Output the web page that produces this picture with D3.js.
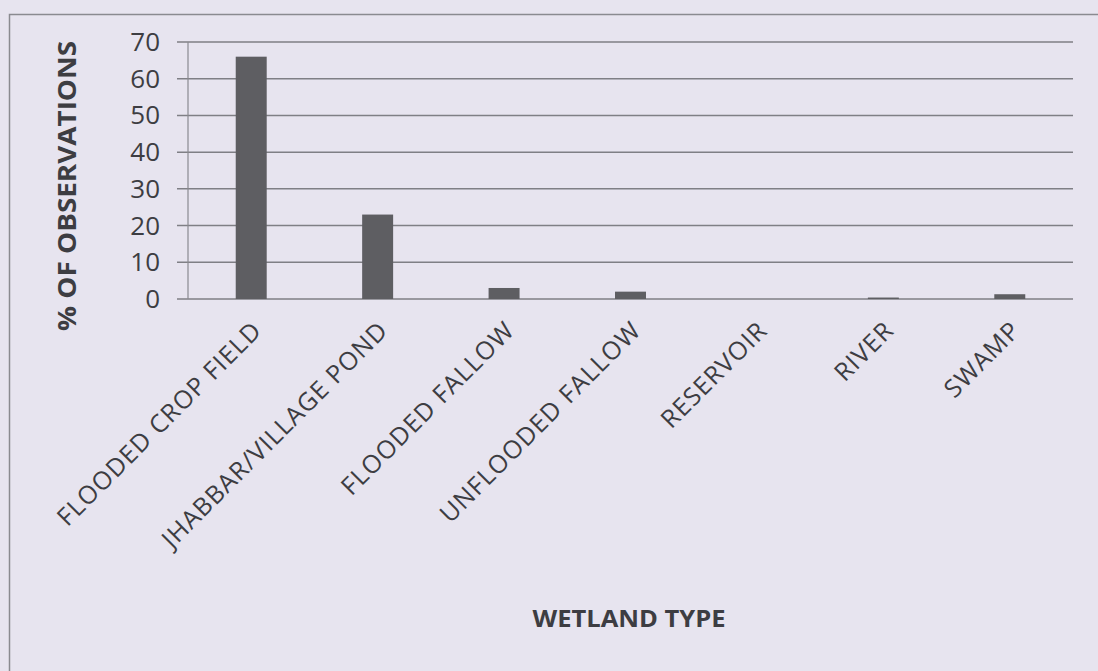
<!DOCTYPE html>
<html lang="en">
<head>
    <meta charset="UTF-8"/>
    <title>Wetland type observations</title>
    <script src="https://d3js.org/d3.v7.min.js"></script>
    <style>
        body { margin: 0; background: #e7e4ef; }
        svg text { fill: #3d3d42; }
    </style>
</head>
<body>
    <script>
        var w = 1098;
        var h = 671;

        // values
        var categories = ["FLOODED CROP FIELD", "JHABBAR/VILLAGE POND", "FLOODED FALLOW",
                          "UNFLOODED FALLOW", "RESERVOIR", "RIVER", "SWAMP"];
        var percents = [66, 23, 3, 2, 0, 0.4, 1.3];
        var yTicks = [0, 10, 20, 30, 40, 50, 60, 70];

        // plot box (note: "top" is a reserved window name, so use plot*)
        var plotLeft = 188, plotRight = 1073, plotTop = 42, plotBottom = 299;

        var svg = d3.select("body")
                    .append("svg")
                    .attr("width", w)
                    .attr("height", h);

        // outer chart frame
        svg.append("rect")
            .attr("x", 9.5).attr("y", 14.5)
            .attr("width", 1200).attr("height", 800)
            .attr("fill", "none")
            .attr("stroke", "#8a8a90")
            .attr("stroke-width", 1.5);

        var xScale = d3.scaleBand()
                       .domain(categories)
                       .range([plotLeft, plotRight])
                       .paddingInner(0.755)
                       .paddingOuter(0.3775);

        var yScale = d3.scaleLinear()
                       .domain([0, 70])
                       .range([plotBottom, plotTop]);

        // gridlines with tick stubs
        svg.selectAll("line.grid")
            .data(yTicks)
            .enter()
            .append("line")
            .attr("class", "grid")
            .attr("x1", plotLeft - 11)
            .attr("x2", plotRight)
            .attr("y1", function(d){ return yScale(d); })
            .attr("y2", function(d){ return yScale(d); })
            .attr("stroke", "#7f7f85")
            .attr("stroke-width", 1.5);

        svg.append("line")
            .attr("x1", plotLeft).attr("x2", plotLeft)
            .attr("y1", plotTop).attr("y2", plotBottom)
            .attr("stroke", "#8a8a90")
            .attr("stroke-width", 1.2);

        svg.selectAll("text.ytick")
            .data(yTicks)
            .enter()
            .append("text")
            .attr("class", "ytick")
            .attr("x", 160)
            .attr("y", function(d){ return yScale(d) + 9; })
            .attr("text-anchor", "end")
            .style("font-family", "'Open Sans', sans-serif")
            .style("font-size", "26px")
            .text(function(d){ return d; });

        svg.selectAll("rect.bar")
            .data(percents)
            .enter()
            .append("rect")
            .attr("class", "bar")
            .attr("x", function(d, i){ return xScale(categories[i]); })
            .attr("y", function(d){ return yScale(d); })
            .attr("width", xScale.bandwidth())
            .attr("height", function(d){ return plotBottom - yScale(d); })
            .attr("fill", "#5e5e62");

        // rotated category labels
        svg.selectAll("text.xlab")
            .data(categories)
            .enter()
            .append("text")
            .attr("class", "xlab")
            .attr("text-anchor", "end")
            .attr("transform", function(d){
                var cx = xScale(d) + xScale.bandwidth() / 2 + 12;
                return "translate(" + cx + "," + 332 + ") rotate(-45)";
            })
            .style("font-family", "'Open Sans', sans-serif")
            .style("font-size", "25px")
            .style("letter-spacing", "1px")
            .text(function(d){ return d; });

        svg.append("text")
            .attr("transform", "translate(76,186) rotate(-90)")
            .attr("text-anchor", "middle")
            .attr("textLength", 290)
            .attr("lengthAdjust", "spacingAndGlyphs")
            .style("font-family", "'Open Sans', sans-serif")
            .style("font-size", "25px")
            .style("font-weight", "bold")
            .text("% OF OBSERVATIONS");

        svg.append("text")
            .attr("x", 629)
            .attr("y", 627)
            .attr("text-anchor", "middle")
            .attr("textLength", 193)
            .attr("lengthAdjust", "spacingAndGlyphs")
            .style("font-family", "'Open Sans', sans-serif")
            .style("font-size", "24px")
            .style("font-weight", "bold")
            .text("WETLAND TYPE");
    </script>
</body>
</html>
